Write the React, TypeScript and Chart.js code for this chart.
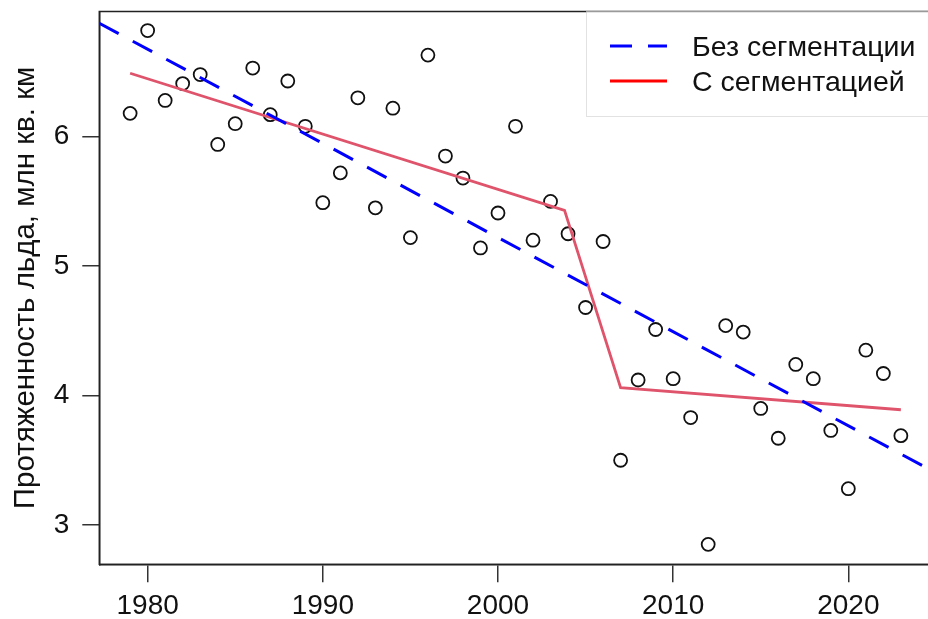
import React, { useEffect, useRef } from 'react';
import { Chart, registerables } from 'chart.js';

Chart.register(...registerables);

// ---- data ----
const years = [
  1979, 1980, 1981, 1982, 1983, 1984, 1985, 1986, 1987, 1988, 1989,
  1990, 1991, 1992, 1993, 1994, 1995, 1996, 1997, 1998, 1999,
  2000, 2001, 2002, 2003, 2004, 2005, 2006, 2007, 2008, 2009,
  2010, 2011, 2012, 2013, 2014, 2015, 2016, 2017, 2018, 2019,
  2020, 2021, 2022, 2023,
];
const extent = [
  6.18, 6.82, 6.28, 6.41, 6.48, 5.94, 6.10, 6.53, 6.17, 6.43, 6.08,
  5.49, 5.72, 6.30, 5.45, 6.22, 5.22, 6.63, 5.85, 5.68, 5.14,
  5.41, 6.08, 5.20, 5.50, 5.25, 4.68, 5.19, 3.50, 4.12, 4.51,
  4.13, 3.83, 2.85, 4.54, 4.49, 3.90, 3.67, 4.24, 4.13, 3.73,
  3.28, 4.35, 4.17, 3.69,
];
// linear trend (no segmentation), endpoints at the plot limits
const trendYears = [1977.24, 2024.76];
const trendValues = [6.876, 3.42];
// segmented fit
const segYears = [1979, 2003.8, 2007, 2023];
const segValues = [6.49, 5.43, 4.06, 3.89];

const xTicks = [1980, 1990, 2000, 2010, 2020];
const yTicks = [3, 4, 5, 6];
const xRange = [1977.24, 2024.76];
const yRange = [2.696, 6.967];

const legendLabels = ['Без сегментации', 'С сегментацией'];
const yTitle = 'Протяженность льда, млн кв. км';

const FONT = '"Liberation Sans", Arial, Helvetica, sans-serif';

const framePlugin = {
  id: 'frameAndLegend',
  afterDatasetsDraw(chart: any) {
    const { ctx, chartArea: a } = chart;
    ctx.save();
    // plot box
    ctx.strokeStyle = '#222';
    ctx.lineWidth = 1.5;
    ctx.setLineDash([]);
    ctx.strokeRect(a.left, a.top, a.right - a.left, a.bottom - a.top);

    // legend box
    const lx = 586;
    const ly = a.top;
    const lw = 400;
    const lh = 105;
    ctx.fillStyle = '#ffffff';
    ctx.fillRect(lx, ly - 0.75, lw, lh);
    ctx.strokeStyle = '#e2e2e2';
    ctx.lineWidth = 1;
    ctx.strokeRect(lx + 0.5, ly, lw, lh);
    ctx.strokeStyle = '#9a9a9a';
    ctx.lineWidth = 1.5;
    ctx.beginPath();
    ctx.moveTo(lx, ly);
    ctx.lineTo(lx + lw, ly);
    ctx.stroke();

    const rows = [46, 81];
    // dashed blue sample
    ctx.lineWidth = 3;
    ctx.strokeStyle = '#0000ff';
    ctx.setLineDash([22, 16]);
    ctx.beginPath();
    ctx.moveTo(610, rows[0]);
    ctx.lineTo(667, rows[0]);
    ctx.stroke();
    // red sample
    ctx.setLineDash([]);
    ctx.strokeStyle = '#ff0000';
    ctx.beginPath();
    ctx.moveTo(610, rows[1]);
    ctx.lineTo(667, rows[1]);
    ctx.stroke();

    ctx.fillStyle = '#111';
    ctx.font = `28.5px ${FONT}`;
    ctx.textBaseline = 'middle';
    ctx.textAlign = 'left';
    ctx.fillText(legendLabels[0], 692, rows[0] + 2);
    ctx.fillText(legendLabels[1], 692, rows[1] + 2);
    ctx.restore();
  },
};

export default function App() {
  const ref = useRef<HTMLCanvasElement | null>(null);

  useEffect(() => {
    if (!ref.current) return;
    const points = years.map((y, i) => ({ x: y, y: extent[i] }));
    const trend = trendYears.map((y, i) => ({ x: y, y: trendValues[i] }));
    const seg = segYears.map((y, i) => ({ x: y, y: segValues[i] }));

    const chart = new Chart(ref.current, {
      type: 'scatter',
      data: {
        datasets: [
          {
            type: 'line',
            label: legendLabels[0],
            data: trend,
            borderColor: '#0000ff',
            borderWidth: 3,
            borderDash: [22, 16],
            pointRadius: 0,
            fill: false,
            tension: 0,
          } as any,
          {
            type: 'line',
            label: legendLabels[1],
            data: seg,
            borderColor: '#DF536B',
            borderWidth: 2.8,
            pointRadius: 0,
            fill: false,
            tension: 0,
          } as any,
          {
            label: 'points',
            data: points,
            pointStyle: 'circle',
            pointRadius: 6.5,
            pointBorderWidth: 1.8,
            borderColor: '#111',
            backgroundColor: 'rgba(0,0,0,0)',
            pointBackgroundColor: 'rgba(0,0,0,0)',
            pointBorderColor: '#111',
          } as any,
        ],
      },
      options: {
        animation: false,
        responsive: false,
        maintainAspectRatio: false,
        devicePixelRatio: 1,
        layout: { padding: { left: 0, top: 11.5, right: 7.7, bottom: 0 } },
        plugins: {
          legend: { display: false },
          tooltip: { enabled: false },
        },
        font: { family: FONT },
        scales: {
          x: {
            type: 'linear',
            min: xRange[0],
            max: xRange[1],
            afterBuildTicks: (s: any) => {
              s.ticks = xTicks.map((v) => ({ value: v }));
            },
            afterFit: (s: any) => {
              s.height = 54.7;
              s.paddingLeft = 0;
              s.paddingRight = 0;
            },
            grid: {
              drawOnChartArea: false,
              drawTicks: true,
              tickLength: 18,
              color: '#333',
              lineWidth: 1.5,
            },
            border: { display: true, color: '#222', width: 1.5 },
            ticks: {
              color: '#111',
              font: { family: FONT, size: 28 },
              padding: 7,
              maxRotation: 0,
              autoSkip: false,
              callback: (v: any) => String(v),
            },
          },
          y: {
            type: 'linear',
            min: yRange[0],
            max: yRange[1],
            afterBuildTicks: (s: any) => {
              s.ticks = yTicks.map((v) => ({ value: v }));
            },
            afterFit: (s: any) => {
              s.width = 99.3;
              s.paddingTop = 0;
              s.paddingBottom = 0;
            },
            grid: {
              drawOnChartArea: false,
              drawTicks: true,
              tickLength: 17,
              color: '#333',
              lineWidth: 1.5,
            },
            border: { display: true, color: '#222', width: 1.5 },
            ticks: {
              color: '#111',
              font: { family: FONT, size: 28 },
              padding: 13,
              autoSkip: false,
              callback: (v: any) => String(v),
            },
            title: {
              display: true,
              text: yTitle,
              color: '#111',
              font: { family: FONT, size: 29.5 },
              padding: { top: 8, bottom: 0 },
            },
          },
        },
      } as any,
      plugins: [framePlugin],
    });
    return () => chart.destroy();
  }, []);

  return (
    <div
      style={{
        position: 'absolute',
        left: 0,
        top: 0,
        width: 928,
        height: 619,
        overflow: 'hidden',
        background: '#fff',
      }}
    >
      <canvas ref={ref} width={940} height={619} style={{ width: 940, height: 619, display: 'block' }} />
    </div>
  );
}
